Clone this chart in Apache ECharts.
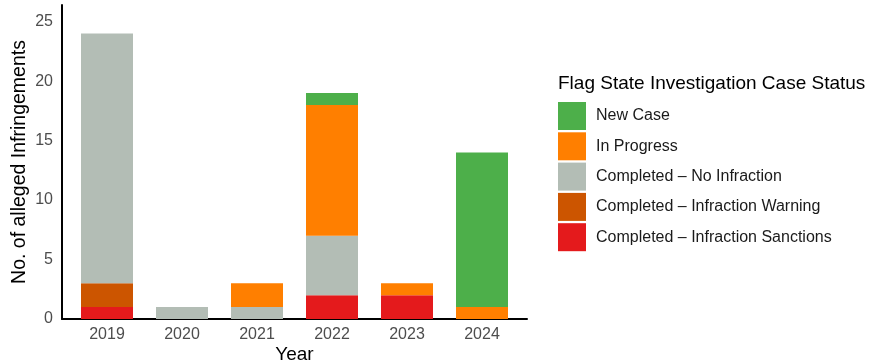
<!DOCTYPE html>
<html>
<head>
<meta charset="utf-8">
<script src="https://cdn.jsdelivr.net/npm/echarts@6/dist/echarts.min.js"></script>
<style>
  html, body { margin: 0; padding: 0; background: #fff; }
  #chart { width: 870px; height: 364px; }
</style>
</head>
<body>
<div id="chart"></div>
<script>
// data
const years = ['2019', '2020', '2021', '2022', '2023', '2024'];
const sanctions = [1, 0, 0, 2, 2, 0];
const warning = [2, 0, 0, 0, 0, 0];
const noInfraction = [21, 1, 1, 5, 0, 0];
const inProgress = [0, 0, 2, 11, 1, 1];
const newCase = [0, 0, 0, 1, 0, 13];
const yTicks = [0, 5, 10, 15, 20, 25];

const statusNames = [
    'Completed \u2013 Infraction Sanctions',
    'Completed \u2013 Infraction Warning',
    'Completed \u2013 No Infraction',
    'In Progress',
    'New Case'
];
const statusColors = ['#E41A1C', '#CC5500', '#B3BDB5', '#FF7F00', '#4DAF4A'];
const statusValues = [sanctions, warning, noInfraction, inProgress, newCase];

const font = 'Liberation Sans, Arial, sans-serif';
const yMax = 26.4;
let myChart = echarts.init(document.getElementById('chart'));

const option = {
    animation: false,
    textStyle: { fontFamily: font },
    title: {
        text: 'Flag State Investigation Case Status',
        left: 553,
        top: 69,
        textStyle: { fontFamily: font, fontSize: 19, fontWeight: 'normal', color: '#000' }
    },
    legend: {
        orient: 'vertical',
        left: 553,
        top: 97,
        itemWidth: 28,
        itemHeight: 28,
        itemGap: 2.3,
        icon: 'rect',
        data: statusNames.slice().reverse(),
        textStyle: { fontFamily: font, fontSize: 16, color: '#1a1a1a', padding: [0, 0, 0, 5] }
    },
    // grid 0 holds the bars (band = 75px, like ggplot's 0.6 expansion),
    // grid 1 draws the full-length axis lines, labels of y and names
    grid: [
        { left: 69.5, right: 350.5, top: 5, bottom: 45, outerBoundsMode: 'none' },
        { left: 62, right: 343, top: 5, bottom: 45, outerBoundsMode: 'none' }
    ],
    xAxis: [
        {
            type: 'category',
            gridIndex: 0,
            data: years,
            axisLine: { show: false },
            axisTick: { show: false },
            splitLine: { show: false },
            axisLabel: { color: '#4D4D4D', fontSize: 16, margin: 8 }
        },
        {
            type: 'value',
            gridIndex: 1,
            min: 0,
            max: 1,
            name: 'Year',
            nameLocation: 'middle',
            nameGap: 26,
            nameMoveOverlap: false,
            nameTextStyle: { fontFamily: font, fontSize: 19, color: '#000' },
            axisLine: { show: true, onZero: false, lineStyle: { color: '#000', width: 2 } },
            axisTick: { show: false },
            axisLabel: { show: false },
            splitLine: { show: false }
        }
    ],
    yAxis: [
        {
            type: 'value',
            gridIndex: 0,
            min: 0,
            max: yMax,
            show: false
        },
        {
            type: 'value',
            gridIndex: 1,
            min: 0,
            max: yMax,
            name: 'No. of alleged Infringements',
            nameLocation: 'middle',
            nameGap: 32,
            nameMoveOverlap: false,
            nameTextStyle: { fontFamily: font, fontSize: 19.5, color: '#000' },
            axisLine: { show: true, onZero: false, lineStyle: { color: '#000', width: 2 } },
            axisTick: { show: false },
            splitLine: { show: false },
            axisLabel: {
                customValues: yTicks,
                color: '#4D4D4D',
                fontSize: 16,
                margin: 9
            }
        }
    ],
    series: statusNames.map((name, i) => ({
        name: name,
        type: 'bar',
        stack: 'total',
        xAxisIndex: 0,
        yAxisIndex: 0,
        barWidth: 52,
        itemStyle: { color: statusColors[i] },
        data: statusValues[i]
    }))
};
option && myChart.setOption(option);
</script>
</body>
</html>
